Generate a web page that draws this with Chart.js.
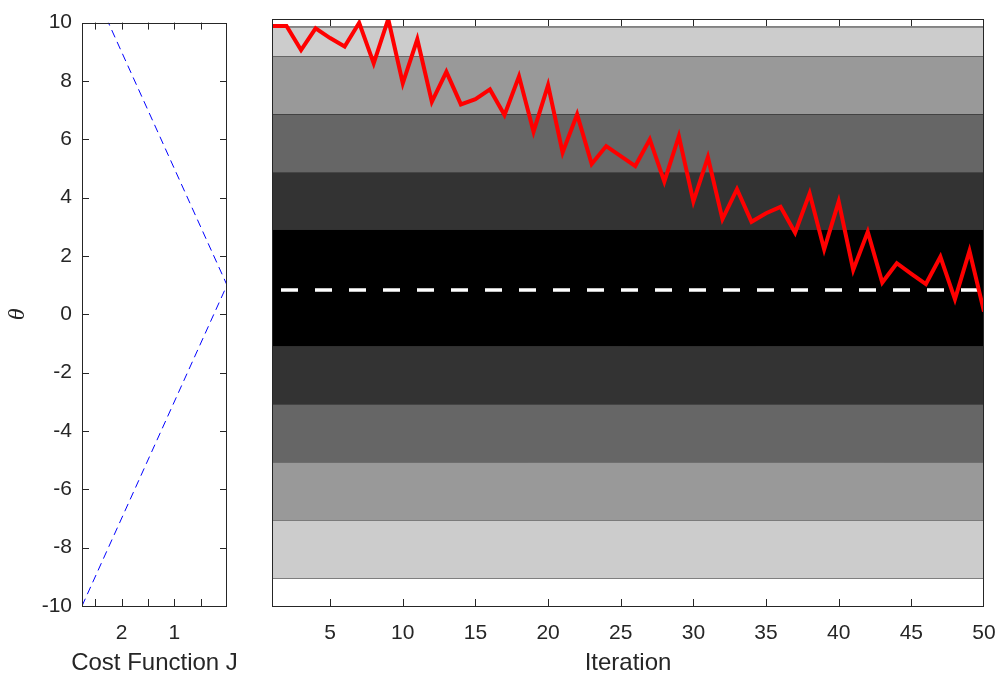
<!DOCTYPE html>
<html>
<head>
<meta charset="utf-8">
<title>Cost function and iterations</title>
<script src="https://cdn.jsdelivr.net/npm/chart.js@4"></script>
<style>
    body { margin: 0; background: #fff; }
    #wrap { position: relative; width: 1001px; height: 681px; }
    #wrap canvas { position: absolute; left: 0; top: 0; }
</style>
</head>
<body>
<div id="wrap">
    <canvas id="Cost-Chart" width="1001" height="681"></canvas>
    <canvas id="Iter-Chart" width="1001" height="681"></canvas>
</div>
<script>
// left panel: cost J against theta
var costTheta = [-10, 1, 10];
var costJ = [2.75, 0, 2.25];
var costTicks = [0.5, 1, 1.5, 2, 2.5];
var thetaTicks = [-10, -8, -6, -4, -2, 0, 2, 4, 6, 8, 10];

// right panel: theta per iteration
var iterTicks = [5, 10, 15, 20, 25, 30, 35, 40, 45, 50];
var thetaPath = [9.76, 9.76, 8.94, 9.68, 9.35, 9.06, 9.87, 8.49, 10.0, 7.81,
                 9.31, 7.18, 8.20, 7.09, 7.27, 7.60, 6.73, 8.05, 6.16, 7.75,
                 5.45, 6.75, 5.06, 5.67, 5.33, 4.99, 5.90, 4.46, 6.01, 3.78,
                 5.29, 3.18, 4.20, 3.09, 3.38, 3.60, 2.72, 4.06, 2.15, 3.78,
                 1.45, 2.75, 1.02, 1.68, 1.32, 0.97, 1.90, 0.45, 2.10, 0.03];
var targetTheta = 0.77;

// grey bands behind the path
var bandEdges = [9.73, 8.74, 6.76, 4.78, 2.84, -1.14, -3.12, -5.09, -7.07, -9.05];
var bandShades = ['#cccccc', '#999999', '#666666', '#333333', '#000000',
                  '#333333', '#666666', '#999999', '#cccccc'];

var ink = '#262626';
var sans = "'Liberation Sans', Arial, sans-serif";
var tickFont = { family: sans, size: 21 };
var titleFont = { family: sans, size: 24 };

// box around the axes with inward tick marks, like matlab
var frame = {
    id: 'frame',
    afterDatasetsDraw: function (chart, args, opts) {
        var ctx = chart.ctx, a = chart.chartArea, len = 7;
        ctx.save();
        ctx.strokeStyle = ink;
        ctx.lineWidth = 1;
        ctx.beginPath();
        chart.scales.x.ticks.forEach(function (t) {
            var px = Math.round(chart.scales.x.getPixelForValue(t.value)) + 0.5;
            if (px <= a.left + 1 || px >= a.right - 1) return;
            ctx.moveTo(px, a.bottom); ctx.lineTo(px, a.bottom - len);
            ctx.moveTo(px, a.top); ctx.lineTo(px, a.top + len);
        });
        if (opts.yTicks) {
            chart.scales.y.ticks.forEach(function (t) {
                var py = Math.round(chart.scales.y.getPixelForValue(t.value)) + 0.5;
                if (py <= a.top + 1 || py >= a.bottom - 1) return;
                ctx.moveTo(a.left, py); ctx.lineTo(a.left + len, py);
                ctx.moveTo(a.right, py); ctx.lineTo(a.right - len, py);
            });
        }
        ctx.stroke();
        ctx.strokeRect(Math.round(a.left) + 0.5, Math.round(a.top) + 0.5,
                       Math.round(a.width) - 1, Math.round(a.height));
        // x caption, drawn here so it is not squeezed to the axis width
        if (opts.caption) {
            ctx.fillStyle = ink;
            ctx.font = titleFont.size + 'px ' + sans;
            ctx.textAlign = 'center';
            ctx.textBaseline = 'middle';
            ctx.fillText(opts.caption, (a.left + a.right) / 2, 663);
        }
        ctx.restore();
    }
};

function setTicks(list) {
    return function (s) {
        s.ticks = list.map(function (v) { return { value: v }; });
    };
}

// fixed axis band height, no side padding for edge labels
function fitX(s) {
    s.height = 75;
    s.paddingLeft = 0;
    s.paddingRight = 0;
}

window.onload = function () {
    var cost = document.getElementById('Cost-Chart').getContext('2d');

    new Chart(cost, {
        type: 'scatter',
        data: {
            datasets: [{
                data: costTheta.map(function (t, i) { return { x: costJ[i], y: t }; }),
                showLine: true,
                borderColor: '#0000ff',
                borderWidth: 1,
                borderDash: [8, 5],
                pointRadius: 0,
                tension: 0
            }]
        },
        options: {
            responsive: false,
            animation: false,
            layout: { padding: { left: 0, top: 19, right: 774, bottom: 0 } },
            plugins: {
                legend: { display: false },
                tooltip: { enabled: false },
                frame: { yTicks: true, caption: 'Cost Function J' }
            },
            scales: {
                x: {
                    type: 'linear',
                    reverse: true,
                    min: 0,
                    max: 2.75,
                    afterBuildTicks: setTicks(costTicks),
                    afterFit: fitX,
                    grid: { display: false, drawTicks: false },
                    border: { display: false },
                    ticks: {
                        color: ink, font: tickFont, padding: 15, maxRotation: 0, autoSkip: false,
                        callback: function (v) { return Number.isInteger(v) ? String(v) : ''; }
                    }
                },
                y: {
                    type: 'linear',
                    min: -10,
                    max: 10,
                    afterBuildTicks: setTicks(thetaTicks),
                    afterFit: function (s) { s.width = 82; },
                    grid: { display: false, drawTicks: false },
                    border: { display: false },
                    ticks: { color: ink, font: tickFont, padding: 10, autoSkip: false },
                    title: { display: true, text: 'θ', color: ink,
                             font: { family: "'Liberation Serif', serif", style: 'italic', size: 24 },
                             padding: { top: 3, bottom: 0 } }
                }
            }
        },
        plugins: [frame]
    });

    var sets = [{
        data: thetaPath.map(function (t, i) { return { x: i + 1, y: t }; }),
        borderColor: '#ff0000',
        borderWidth: 4,
        pointRadius: 0,
        tension: 0,
        order: 0
    }, {
        data: [{ x: 1, y: targetTheta }, { x: thetaPath.length, y: targetTheta }],
        borderColor: '#ffffff',
        borderWidth: 3.5,
        borderDash: [17, 17],
        borderDashOffset: -9,
        pointRadius: 0,
        order: 1
    }];
    bandEdges.forEach(function (edge, i) {
        var last = i === bandEdges.length - 1;
        sets.push({
            data: [{ x: 1, y: edge }, { x: thetaPath.length, y: edge }],
            borderColor: '#2b2b2b',
            borderWidth: 1,
            pointRadius: 0,
            backgroundColor: last ? 'transparent' : bandShades[i],
            fill: last ? false : { value: bandEdges[i + 1] },
            order: 2
        });
    });

    var iter = document.getElementById('Iter-Chart').getContext('2d');

    new Chart(iter, {
        type: 'line',
        data: { datasets: sets },
        options: {
            responsive: false,
            animation: false,
            layout: { padding: { left: 272, top: 19, right: 17, bottom: 0 } },
            plugins: {
                legend: { display: false },
                tooltip: { enabled: false },
                frame: { yTicks: false, caption: 'Iteration' }
            },
            scales: {
                x: {
                    type: 'linear',
                    min: 1,
                    max: thetaPath.length,
                    afterBuildTicks: setTicks(iterTicks),
                    afterFit: fitX,
                    grid: { display: false, drawTicks: false },
                    border: { display: false },
                    ticks: { color: ink, font: tickFont, padding: 15, maxRotation: 0, autoSkip: false }
                },
                y: {
                    type: 'linear',
                    display: false,
                    min: -10,
                    max: 10
                }
            }
        },
        plugins: [frame]
    });
};
</script>
</body>
</html>
